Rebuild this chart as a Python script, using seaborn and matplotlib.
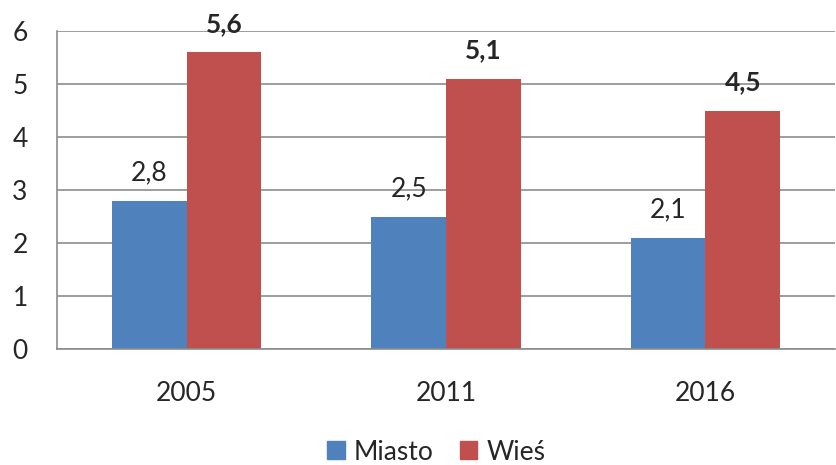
import matplotlib.pyplot as plt
import matplotlib.patches as mpatches
import seaborn as sns
import pandas as pd

years = ["2005", "2011", "2016"]
miasto = [2.8, 2.5, 2.1]
wies = [5.6, 5.1, 4.5]
series = ["Miasto", "Wieś"]
colors = ["#4F81BD", "#C0504D"]

df = pd.DataFrame({
    "rok": years * 2,
    "wartosc": miasto + wies,
    "typ": [series[0]] * 3 + [series[1]] * 3,
})

sns.set_style("white")
plt.rcParams["font.family"] = ["Lato", "DejaVu Sans"]
grey = "#8c8c8c"
fs = 19

fig = plt.figure(figsize=(8.36, 4.65), dpi=100)
ax = fig.add_axes([0.068, 0.249, 0.931, 0.684])

sns.barplot(data=df, x="rok", y="wartosc", hue="typ", palette=colors,
            width=0.577, saturation=1, linewidth=0, ax=ax, legend=False)

def fmt(v):
    return f"{v:.1f}".replace(".", ",")

ax.bar_label(ax.containers[0], labels=[fmt(v) for v in miasto],
             padding=11, fontsize=fs)
ax.bar_label(ax.containers[1], labels=[fmt(v) for v in wies],
             padding=12, fontsize=fs, fontweight="bold")

ax.set_ylim(0, 6)
ax.set_yticks(range(0, 7))
ax.set_xlim(-0.5, 2.5)
ax.set_xlabel("")
ax.set_ylabel("")
ax.yaxis.grid(True, color=grey, linewidth=1.2)
ax.set_axisbelow(True)
sns.despine(ax=ax, top=True, right=True)
ax.spines["left"].set_color(grey)
ax.spines["bottom"].set_color(grey)
ax.spines["left"].set_linewidth(1.2)
ax.spines["bottom"].set_linewidth(1.2)

ax.tick_params(axis="y", length=7, color=grey, width=1.2, pad=14, labelsize=fs)
ax.tick_params(axis="x", which="major", length=0, pad=23, labelsize=fs)
ax.set_xticks([-0.5, 0.5, 1.5, 2.5], minor=True)
ax.tick_params(axis="x", which="minor", length=6, color=grey, width=1.2)

handles = [mpatches.Patch(color=c, label=s) for c, s in zip(colors, series)]
fig.legend(handles=handles, loc="lower center", bbox_to_anchor=(0.522, -0.05),
           ncol=2, frameon=False, fontsize=fs, handlelength=0.65,
           handleheight=0.65, handletextpad=0.35, columnspacing=1.0)

fig.savefig("out.png", dpi=100)
